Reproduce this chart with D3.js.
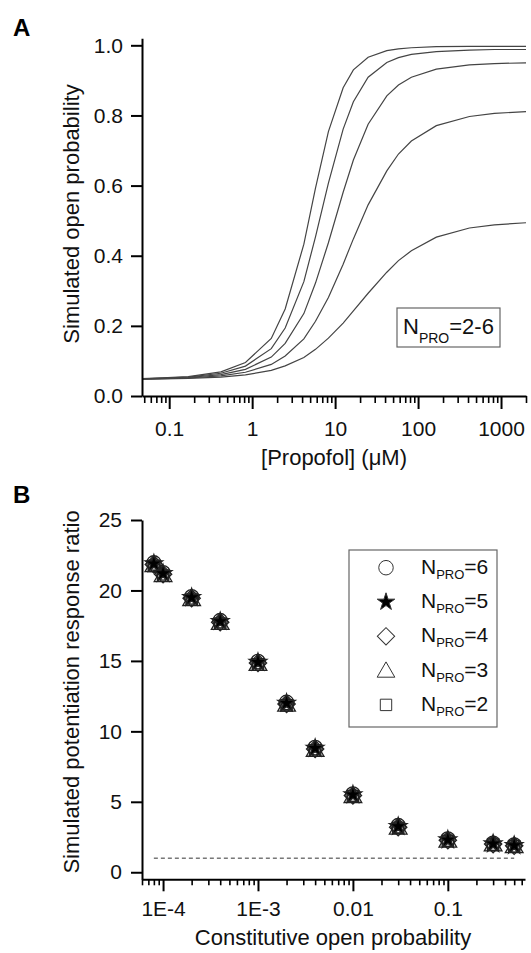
<!DOCTYPE html>
<html>
<head>
<meta charset="utf-8">
<script src="https://cdnjs.cloudflare.com/ajax/libs/d3/7.8.5/d3.min.js"></script>
<style>
body { margin: 0; background: #fff; }
text { font-family: Arial, "Liberation Sans", sans-serif; }
</style>
</head>
<body>
<script>
// panel A: simulated open probability vs propofol
var propofol = [0.047, 0.083, 0.17, 0.42, 0.83, 1.7, 2.5, 4.2, 5.8, 8.3, 12.5, 16.6, 25, 42, 58, 83, 166, 416, 832, 2000];
var poN2 = [0.048, 0.0489, 0.0501, 0.0539, 0.0603, 0.0731, 0.0858, 0.110, 0.133, 0.165, 0.208, 0.243, 0.293, 0.353, 0.386, 0.414, 0.453, 0.479, 0.488, 0.494];
var poN3 = [0.0484, 0.0495, 0.0514, 0.0574, 0.0677, 0.0901, 0.114, 0.163, 0.213, 0.281, 0.376, 0.448, 0.545, 0.642, 0.690, 0.727, 0.771, 0.797, 0.806, 0.811];
var poN4 = [0.0487, 0.0502, 0.0528, 0.061, 0.0761, 0.111, 0.150, 0.235, 0.322, 0.437, 0.581, 0.673, 0.775, 0.856, 0.887, 0.909, 0.932, 0.944, 0.948, 0.950];
var poN5 = [0.049, 0.0508, 0.0541, 0.0649, 0.0853, 0.135, 0.194, 0.326, 0.454, 0.607, 0.761, 0.839, 0.909, 0.951, 0.965, 0.974, 0.982, 0.986, 0.988, 0.988];
var poN6 = [0.0494, 0.0515, 0.0555, 0.069, 0.0955, 0.164, 0.248, 0.433, 0.593, 0.754, 0.879, 0.930, 0.966, 0.985, 0.990, 0.993, 0.996, 0.997, 0.997, 0.997];
var yTicksA = [0, 0.2, 0.4, 0.6, 0.8, 1.0];
var xTicksA = [0.1, 1, 10, 100, 1000];

// panel B: potentiation ratio vs constitutive open probability
var constPo = [8e-5, 1e-4, 2e-4, 4e-4, 1e-3, 2e-3, 4e-3, 0.01, 0.03, 0.1, 0.3, 0.5];
var ratioN6 = [21.95, 21.25, 19.55, 17.85, 14.95, 12.05, 8.85, 5.55, 3.3, 2.35, 2.05, 1.92];
var ratioN5 = [21.9, 21.2, 19.5, 17.8, 14.9, 12.0, 8.8, 5.5, 3.25, 2.3, 2.02, 1.9];
var ratioN4 = [21.85, 21.15, 19.45, 17.75, 14.85, 11.95, 8.75, 5.45, 3.2, 2.27, 2.0, 1.88];
var ratioN3 = [21.8, 21.1, 19.4, 17.7, 14.8, 11.9, 8.7, 5.42, 3.18, 2.25, 1.98, 1.86];
var ratioN2 = [21.75, 21.05, 19.35, 17.65, 14.75, 11.85, 8.65, 5.4, 3.15, 2.22, 1.96, 1.84];
var yTicksB = [0, 5, 10, 15, 20, 25];
var xTicksB = [1e-4, 1e-3, 0.01, 0.1];
var xTickLabelsB = ["1E-4", "1E-3", "0.01", "0.1"];
var dashX = [8e-5, 0.5];
var dashY = 1;

var legendNames = ["6", "5", "4", "3", "2"];
var legendShapes = ["circle", "star", "diamond", "triangle", "square"];

var svg = d3.select("body")
    .append("svg")
    .attr("width", 531)
    .attr("height", 953);

function minorTicks(lo, hi) {
    var out = [];
    for (var e = -6; e <= 4; e++) {
        for (var m = 2; m <= 9; m++) {
            var v = m * Math.pow(10, e);
            if (v >= lo && v <= hi) out.push(v);
        }
    }
    return out;
}

function styleAxis(g, size) {
    g.attr("font-family", "Arial, 'Liberation Sans', sans-serif")
        .attr("font-size", size);
    g.selectAll("path").attr("stroke", "#000").attr("stroke-width", 2);
    g.selectAll("line").attr("stroke", "#000").attr("stroke-width", 2);
    g.selectAll("text").attr("fill", "#111");
}

// ---------- panel A ----------
var xA = d3.scaleLog().domain([0.047, 2000]).range([142, 526]);
var yA = d3.scaleLinear().domain([0, 1.02]).range([396, 38.3]);

var curvesA = [poN2, poN3, poN4, poN5, poN6];
var lineA = d3.line()
    .x(function(d) { return xA(d[0]); })
    .y(function(d) { return yA(d[1]); });

svg.selectAll("path.curveA")
    .data(curvesA)
    .enter()
    .append("path")
    .attr("class", "curveA")
    .attr("fill", "none")
    .attr("stroke", "#444")
    .attr("stroke-width", 1.2)
    .attr("d", function(c) {
        return lineA(propofol.map(function(p, i) { return [p, c[i]]; }));
    });

var gyA = svg.append("g")
    .attr("transform", "translate(142,0)")
    .call(d3.axisLeft(yA).tickValues(yTicksA).tickFormat(d3.format(".1f"))
        .tickSize(11).tickSizeOuter(0).tickPadding(8));
styleAxis(gyA, 21);

var gxAminor = svg.append("g")
    .attr("transform", "translate(0,396)")
    .call(d3.axisBottom(xA).tickValues(minorTicks(0.047, 2000)).tickFormat("")
        .tickSize(7).tickSizeOuter(0));
styleAxis(gxAminor, 21);
gxAminor.select("path").remove();
gxAminor.selectAll("line").attr("stroke-width", 1.6);

var gxA = svg.append("g")
    .attr("transform", "translate(0,396)")
    .call(d3.axisBottom(xA).tickValues(xTicksA).tickFormat(function(d) { return d; })
        .tickSize(13).tickSizeOuter(0).tickPadding(12));
styleAxis(gxA, 21);

svg.append("text")
    .attr("transform", "translate(79,214) rotate(-90)")
    .attr("text-anchor", "middle")
    .attr("font-size", 22)
    .attr("fill", "#111")
    .text("Simulated open probability");

svg.append("text")
    .attr("x", 334)
    .attr("y", 465)
    .attr("text-anchor", "middle")
    .attr("font-size", 22)
    .attr("fill", "#111")
    .text("[Propofol] (\u03BCM)");

svg.append("text")
    .attr("x", 13)
    .attr("y", 36)
    .attr("font-size", 24)
    .attr("font-weight", "bold")
    .text("A");

svg.append("rect")
    .attr("x", 397)
    .attr("y", 308)
    .attr("width", 103)
    .attr("height", 39)
    .attr("fill", "#fff")
    .attr("stroke", "#666")
    .attr("stroke-width", 1.2);

var legA = svg.append("text")
    .attr("x", 403)
    .attr("y", 334)
    .attr("font-size", 22)
    .attr("fill", "#111");
legA.append("tspan").text("N");
legA.append("tspan").attr("font-size", 14).attr("dy", 9).text("PRO");
legA.append("tspan").attr("dy", -9).text("=2-6");

// ---------- panel B ----------
var xB = d3.scaleLog().domain([6e-5, 0.65]).range([142, 525]);
var yB = d3.scaleLinear().domain([-0.5, 25]).range([879.3, 520]);

function symbolPath(shape) {
    if (shape == "circle") return d3.symbol().type(d3.symbolCircle).size(165)();
    if (shape == "star") return d3.symbol().type(d3.symbolStar).size(95)();
    if (shape == "diamond") return d3.symbol().type(d3.symbolSquare).size(150)();
    if (shape == "triangle") return d3.symbol().type(d3.symbolTriangle).size(135)();
    return d3.symbol().type(d3.symbolSquare).size(130)();
}

function markerTransform(shape, x, y) {
    var t = "translate(" + x + "," + y + ")";
    if (shape == "diamond") t += " rotate(45)";
    if (shape == "triangle") t += " translate(0,1.5)";
    return t;
}

svg.append("line")
    .attr("x1", xB(dashX[0]))
    .attr("x2", xB(dashX[1]))
    .attr("y1", yB(dashY))
    .attr("y2", yB(dashY))
    .attr("stroke", "#333")
    .attr("stroke-width", 1)
    .attr("stroke-dasharray", "4,3");

// open markers first, the filled star drawn last on top
var seriesB = [
    { shape: "square", values: ratioN2 },
    { shape: "triangle", values: ratioN3 },
    { shape: "diamond", values: ratioN4 },
    { shape: "circle", values: ratioN6 },
    { shape: "star", values: ratioN5 }
];

seriesB.forEach(function(s) {
    svg.append("g")
        .selectAll("path")
        .data(s.values)
        .enter()
        .append("path")
        .attr("d", symbolPath(s.shape))
        .attr("transform", function(d, i) {
            return markerTransform(s.shape, xB(constPo[i]), yB(d));
        })
        .attr("fill", s.shape == "star" ? "#000" : "none")
        .attr("stroke", "#222")
        .attr("stroke-width", 1.3);
});

var gyB = svg.append("g")
    .attr("transform", "translate(142,0)")
    .call(d3.axisLeft(yB).tickValues(yTicksB).tickSize(11).tickSizeOuter(0).tickPadding(9));
styleAxis(gyB, 21);

var gxBminor = svg.append("g")
    .attr("transform", "translate(0,879.3)")
    .call(d3.axisBottom(xB).tickValues(minorTicks(6e-5, 0.65)).tickFormat("")
        .tickSize(6).tickSizeOuter(0));
styleAxis(gxBminor, 21);
gxBminor.select("path").remove();
gxBminor.selectAll("line").attr("stroke-width", 1.6);

var gxB = svg.append("g")
    .attr("transform", "translate(0,879.3)")
    .call(d3.axisBottom(xB).tickValues(xTicksB)
        .tickFormat(function(d, i) { return xTickLabelsB[i]; })
        .tickSize(12).tickSizeOuter(0).tickPadding(10));
styleAxis(gxB, 21);

svg.append("text")
    .attr("transform", "translate(79,692) rotate(-90)")
    .attr("text-anchor", "middle")
    .attr("font-size", 22)
    .attr("fill", "#111")
    .text("Simulated potentiation response ratio");

svg.append("text")
    .attr("x", 333)
    .attr("y", 945)
    .attr("text-anchor", "middle")
    .attr("font-size", 22)
    .attr("fill", "#111")
    .text("Constitutive open probability");

svg.append("text")
    .attr("x", 13)
    .attr("y", 503)
    .attr("font-size", 24)
    .attr("font-weight", "bold")
    .text("B");

svg.append("rect")
    .attr("x", 349)
    .attr("y", 550)
    .attr("width", 148)
    .attr("height", 177)
    .attr("fill", "#fff")
    .attr("stroke", "#666")
    .attr("stroke-width", 1.2);

var legRows = svg.selectAll("g.legB")
    .data(legendNames)
    .enter()
    .append("g")
    .attr("class", "legB")
    .attr("transform", function(d, i) { return "translate(0," + (567.7 + 34.3 * i) + ")"; });

legRows.append("path")
    .attr("d", function(d, i) { return symbolPath(legendShapes[i]); })
    .attr("transform", function(d, i) { return markerTransform(legendShapes[i], 386, 0); })
    .attr("fill", function(d, i) { return legendShapes[i] == "star" ? "#000" : "none"; })
    .attr("stroke", "#333")
    .attr("stroke-width", 1);

var legText = legRows.append("text")
    .attr("x", 421)
    .attr("y", 6)
    .attr("font-size", 21)
    .attr("fill", "#111");
legText.append("tspan").text("N");
legText.append("tspan").attr("font-size", 13).attr("dy", 5).text("PRO");
legText.append("tspan").attr("dy", -5).text(function(d) { return "=" + d; });
</script>
</body>
</html>
